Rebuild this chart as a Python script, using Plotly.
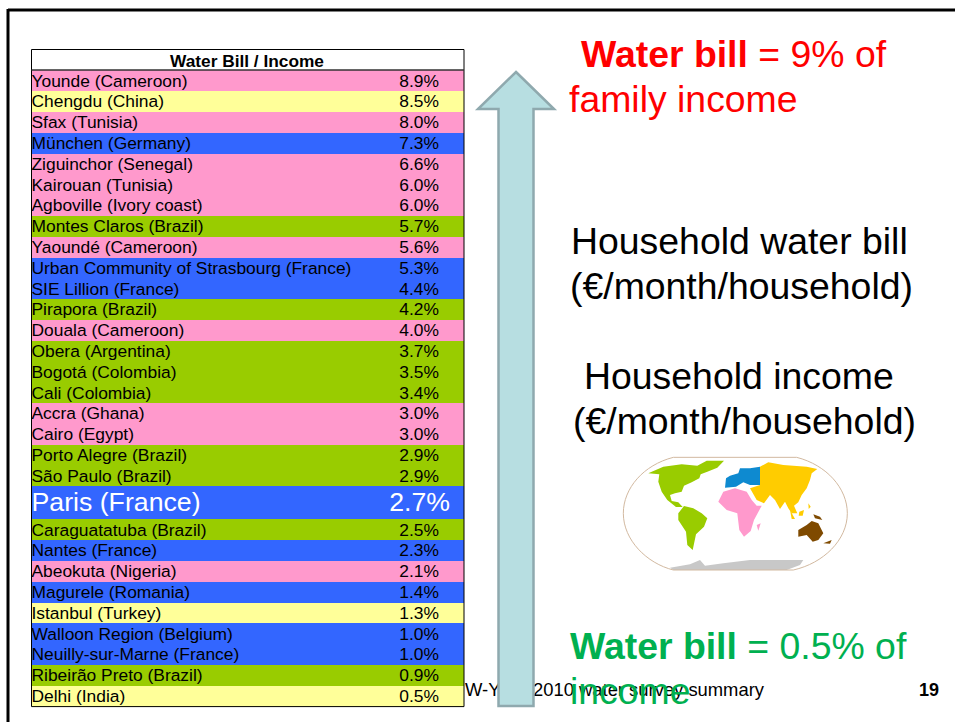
import plotly.graph_objects as go

PINK, YELLOW, BLUE, GREEN = "#FF99CC", "#FFFF99", "#3366FF", "#99CC00"

cities = ["Younde (Cameroon)", "Chengdu (China)", "Sfax (Tunisia)", "München (Germany)",
          "Ziguinchor (Senegal)", "Kairouan (Tunisia)", "Agboville (Ivory coast)",
          "Montes Claros (Brazil)", "Yaoundé (Cameroon)", "Urban Community of Strasbourg (France)",
          "SIE Lillion (France)", "Pirapora (Brazil)", "Douala (Cameroon)", "Obera (Argentina)",
          "Bogotá (Colombia)", "Cali (Colombia)", "Accra (Ghana)", "Cairo (Egypt)",
          "Porto Alegre (Brazil)", "São Paulo (Brazil)", "Paris (France)",
          "Caraguatatuba (Brazil)", "Nantes (France)", "Abeokuta (Nigeria)", "Magurele (Romania)",
          "Istanbul (Turkey)", "Walloon Region (Belgium)", "Neuilly-sur-Marne (France)",
          "Ribeirão Preto (Brazil)", "Delhi (India)"]
shares = [8.9, 8.5, 8.0, 7.3, 6.6, 6.0, 6.0, 5.7, 5.6, 5.3, 4.4, 4.2, 4.0, 3.7, 3.5, 3.4, 3.0,
          3.0, 2.9, 2.9, 2.7, 2.5, 2.3, 2.1, 1.4, 1.3, 1.0, 1.0, 0.9, 0.5]
row_colors = [PINK, YELLOW, PINK, BLUE, PINK, PINK, PINK, GREEN, PINK, BLUE, BLUE, GREEN, PINK,
              GREEN, GREEN, GREEN, PINK, PINK, GREEN, GREEN, BLUE, GREEN, BLUE, PINK, BLUE,
              YELLOW, BLUE, BLUE, GREEN, YELLOW]
row_heights = [20.8] * 20 + [33.0] + [20.8] * 9

TOP, LEFT, RIGHT = 70.4, 31.5, 464.0
centers, y = [], TOP
for h in row_heights:
    centers.append(y + h / 2)
    y += h
BOTTOM = y
label_y = [c + 1.5 for c in centers]

SANS = "Liberation Sans, Arial, sans-serif"
fig = go.Figure()

# table rows
fig.add_trace(go.Bar(orientation="h", y=centers, x=[RIGHT - LEFT] * len(cities), base=LEFT,
                     width=row_heights, marker=dict(color=row_colors, line=dict(width=0)),
                     hoverinfo="skip", showlegend=False))

row_sizes = [26.7 if c == "Paris (France)" else 17.4 for c in cities]
text_colors = ["white" if c == "Paris (France)" else "black" for c in cities]
fig.add_trace(go.Scatter(x=[LEFT] * len(cities), y=label_y, mode="text", text=cities,
                         textposition="middle right",
                         textfont=dict(family=SANS, size=row_sizes, color=text_colors),
                         hoverinfo="skip", showlegend=False))
value_right = [450 if c == "Paris (France)" else 439 for c in cities]
fig.add_trace(go.Scatter(x=value_right, y=label_y, mode="text", text=[f"{v:.1f}%" for v in shares],
                         textposition="middle left",
                         textfont=dict(family=SANS, size=row_sizes, color=text_colors),
                         hoverinfo="skip", showlegend=False))

# footer, partly hidden by the arrow
fig.add_trace(go.Scatter(x=[465, 533], y=[691, 691], mode="text",
                         text=["W-Y", "2010 water survey summary"],
                         textposition="middle right",
                         textfont=dict(family=SANS, size=18.4, color="black"),
                         hoverinfo="skip", showlegend=False))

shapes = [
    dict(type="line", x0=8, x1=8, y0=9, y1=722, line=dict(color="black", width=3)),
    dict(type="line", x0=8, x1=955, y0=10, y1=10, line=dict(color="black", width=3)),
    dict(type="rect", x0=LEFT, x1=RIGHT, y0=49.5, y1=BOTTOM, line=dict(color="black", width=1)),
    dict(type="line", x0=LEFT, x1=RIGHT, y0=70, y1=70, line=dict(color="#333333", width=1.5)),
    dict(type="path", path="M516 72 L554 109 L533.5 109 L533.5 706 L498.5 706 L498.5 109 L478 109 Z",
         fillcolor="#B7DEE1", line=dict(color="#8FA9AE", width=2.5)),
]

# world map picture, traced in its own small coordinate frame
MAP_X, MAP_Y, MAP_S = 610, 445, 1 / 3
north_america = [(115,85),(160,65),(215,58),(262,62),(290,47),(342,47),(322,68),(292,80),(272,88),(268,100),
                 (245,112),(222,122),(215,140),(195,145),(180,150),(185,168),(205,172),(218,186),(198,186),
                 (172,165),(155,140),(145,110),(148,88)]
south_america = [(205,205),(222,183),(250,190),(275,205),(292,220),(282,245),(258,268),(248,315),(232,300),(228,260),(205,225)]
europe = [(345,128),(348,100),(360,92),(385,85),(390,70),(420,70),(450,65),(450,120),(420,120),(400,112),(378,125)]
asia = [(450,65),(475,52),(520,60),(590,65),(622,72),(605,85),(600,105),(590,130),(575,150),(565,172),(552,182),
        (562,205),(545,205),(535,190),(525,170),(510,192),(495,165),(480,150),(462,175),(440,165),(420,130),(450,120)]
indonesia = [(540,195),(555,222),(545,222)]
borneo = [(568,200),(582,195),(578,212),(566,212)]
philippines = [(595,175),(602,185),(596,192)]
africa = [(325,170),(340,140),(375,130),(410,140),(425,165),(440,182),(455,182),(432,225),(422,258),(402,275),
          (388,255),(382,205),(350,195)]
madagascar = [(440,240),(452,235),(445,257)]
australia = [(565,255),(590,240),(605,228),(625,235),(640,265),(625,285),(608,290),(590,270),(565,275)]
new_guinea = [(610,208),(630,215),(637,225),(615,220)]
new_zealand = [(640,295),(665,285),(660,296)]
antarctica = [(180,368),(240,358),(270,345),(285,362),(340,355),(420,345),(580,345),(570,360),(530,375),(190,375)]
land = [(north_america, GREEN), (south_america, GREEN), (europe, "#0E8AD0"), (asia, "#FFCC00"),
        (indonesia, "#FFCC00"), (borneo, "#FFCC00"), (philippines, "#FFCC00"),
        (africa, PINK), (madagascar, PINK), (australia, "#7F4A00"), (new_guinea, "#7F4A00"),
        (new_zealand, "#7F4A00"), (antarctica, "#C8C8C8")]

def mx(v): return MAP_X + v * MAP_S
def my(v): return MAP_Y + v * MAP_S

for pts, col in land:
    p = "M" + " L".join(f"{mx(a):.1f} {my(b):.1f}" for a, b in pts) + " Z"
    shapes.append(dict(type="path", path=p, fillcolor=col, line=dict(width=0), layer="below"))
frame = (f"M{mx(190)} {my(37)} L{mx(560)} {my(37)} C{mx(650)} {my(60)} {mx(712)} {my(130)} {mx(712)} {my(205)} "
         f"C{mx(712)} {my(285)} {mx(640)} {my(355)} {mx(550)} {my(375)} L{mx(190)} {my(375)} "
         f"C{mx(110)} {my(355)} {mx(40)} {my(285)} {mx(40)} {my(205)} C{mx(40)} {my(130)} {mx(100)} {my(60)} {mx(190)} {my(37)} Z")
shapes.append(dict(type="path", path=frame, line=dict(color="#D2B9A0", width=1), layer="below"))

BIG = 37.4
def note(x, y, text, color="black", anchor="left", size=BIG, font=SANS):
    return dict(x=x, y=y, text=text, showarrow=False, xanchor=anchor, yanchor="middle",
                font=dict(family=font, size=size, color=color), xref="x", yref="y")

annotations = [
    note(247, 60.5, "<b>Water Bill / Income</b>", anchor="center", size=17.3),
    note(579, 54, "<b>Water bill</b> = 9% of", "#FF0000"),
    note(567, 99, "family income", "#FF0000"),
    note(739.5, 241, "Household water bill", anchor="center"),
    note(741, 286, "(€/month/household)", anchor="center"),
    note(739, 376, "Household income", anchor="center"),
    note(744.5, 421, "(€/month/household)", anchor="center"),
    note(568, 646, "<b>Water bill</b> = 0.5% of", "#00B050"),
    note(568, 691, "income", "#00B050"),
    note(917, 690, "<b>19</b>", size=18),
]

fig.update_layout(
    width=955, height=722, margin=dict(l=0, r=0, t=0, b=0), autosize=False,
    paper_bgcolor="white", plot_bgcolor="white", bargap=0, barmode="overlay",
    showlegend=False, shapes=shapes, annotations=annotations,
    xaxis=dict(range=[0, 955], visible=False, fixedrange=True),
    yaxis=dict(range=[722, 0], visible=False, fixedrange=True),
)
fig.write_html("out.html", config={"displayModeBar": False},
               post_script="document.body.style.margin='0';document.body.style.overflow='hidden';")
